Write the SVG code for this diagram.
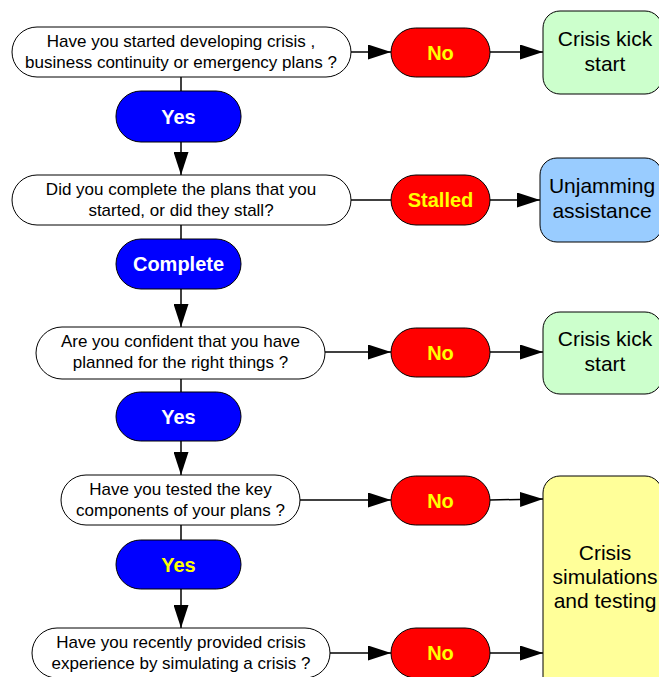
<svg xmlns="http://www.w3.org/2000/svg" width="659" height="677" viewBox="0 0 659 677">
<style>
.q{fill:#fff;stroke:#000;stroke-width:1}
.qt{font-family:"Liberation Sans",Arial,sans-serif;font-size:17px;fill:#000;text-anchor:middle}
.yes{fill:#0000FF;stroke:#000;stroke-width:1}
.no{fill:#FF0000;stroke:#000;stroke-width:1}
.pt{font-family:"Liberation Sans",Arial,sans-serif;font-size:20px;font-weight:bold;text-anchor:middle}
.w{fill:#fff}
.y{fill:#FFFF00}
.bt{font-family:"Liberation Sans",Arial,sans-serif;font-size:21px;fill:#000;text-anchor:middle}
.c{stroke:#000;stroke-width:1.5;fill:none}
.ca{stroke:#000;stroke-width:1.5;fill:none;marker-end:url(#ah)}
</style>
<defs>
<marker id="ah" markerUnits="userSpaceOnUse" markerWidth="23" markerHeight="15" refX="23" refY="7.5" orient="auto" viewBox="0 0 23 15">
<path d="M0,0 L23,7.5 L0,15 z" fill="#000"/>
</marker>
</defs>
<g id="connectors">
<line class="c" x1="181" y1="77" x2="181" y2="91"/>
<line class="ca" x1="181" y1="142" x2="181" y2="175"/>
<line class="c" x1="181" y1="225" x2="181" y2="239"/>
<line class="ca" x1="181" y1="289" x2="181" y2="327"/>
<line class="c" x1="181" y1="379" x2="181" y2="392"/>
<line class="ca" x1="181" y1="441" x2="181" y2="475"/>
<line class="c" x1="181" y1="525" x2="181" y2="540"/>
<line class="ca" x1="181" y1="589" x2="181" y2="628"/>
<line class="ca" x1="351" y1="52" x2="391" y2="52"/>
<line class="ca" x1="490" y1="52" x2="543" y2="52"/>
<line class="c" x1="351" y1="200" x2="391" y2="200"/>
<line class="ca" x1="490" y1="200" x2="540" y2="200"/>
<line class="ca" x1="325" y1="352" x2="391" y2="352"/>
<line class="ca" x1="490" y1="352" x2="543" y2="352"/>
<line class="ca" x1="300" y1="500" x2="391" y2="500"/>
<line class="ca" x1="490" y1="500" x2="543" y2="499"/>
<line class="ca" x1="330" y1="653" x2="391" y2="653"/>
<line class="ca" x1="490" y1="653" x2="543" y2="653"/>
</g>
<g id="q1"><rect class="q" x="12" y="27" width="339" height="50" rx="25"/>
<text class="qt" x="181" y="47">Have you started developing crisis ,</text>
<text class="qt" x="181" y="68">business continuity or emergency plans ?</text></g>
<g id="yes1"><rect class="yes" x="116" y="91" width="125" height="51" rx="25"/><text class="pt w" x="178.5" y="123.5">Yes</text></g>
<g id="q2"><rect class="q" x="12" y="175" width="339" height="50" rx="25"/>
<text class="qt" x="181" y="195">Did you complete the plans that you</text>
<text class="qt" x="181" y="216">started, or did they stall?</text></g>
<g id="complete"><rect class="yes" x="116" y="239" width="125" height="50" rx="25"/><text class="pt w" x="178.5" y="271">Complete</text></g>
<g id="q3"><rect class="q" x="36" y="327" width="289" height="52" rx="26"/>
<text class="qt" x="180.5" y="347">Are you confident that you have</text>
<text class="qt" x="180.5" y="368">planned for the right things ?</text></g>
<g id="yes3"><rect class="yes" x="116" y="392" width="125" height="49" rx="24.5"/><text class="pt w" x="178.5" y="423.5">Yes</text></g>
<g id="q4"><rect class="q" x="61" y="475" width="239" height="50" rx="25"/>
<text class="qt" x="180.5" y="495">Have you tested the key</text>
<text class="qt" x="180.5" y="516">components of your plans ?</text></g>
<g id="yes4"><rect class="yes" x="116" y="540" width="125" height="49" rx="24.5"/><text class="pt y" x="178.5" y="571.5">Yes</text></g>
<g id="q5"><rect class="q" x="32" y="628" width="298" height="50" rx="25"/>
<text class="qt" x="181" y="648">Have you recently provided crisis</text>
<text class="qt" x="181" y="669">experience by simulating a crisis ?</text></g>
<g id="no1"><rect class="no" x="391" y="28" width="99" height="49" rx="24.5"/><text class="pt y" x="440.5" y="59.5">No</text></g>
<g id="stalled"><rect class="no" x="391" y="175" width="99" height="50" rx="25"/><text class="pt y" x="440.5" y="207">Stalled</text></g>
<g id="no3"><rect class="no" x="391" y="328" width="99" height="49" rx="24.5"/><text class="pt y" x="440.5" y="359.5">No</text></g>
<g id="no4"><rect class="no" x="391" y="476" width="99" height="49" rx="24.5"/><text class="pt y" x="440.5" y="507.5">No</text></g>
<g id="no5"><rect class="no" x="391" y="628" width="99" height="50" rx="25"/><text class="pt y" x="440.5" y="660">No</text></g>
<g id="kick1"><rect x="543" y="11" width="119" height="83" rx="17" fill="#CCFFCC" stroke="#000"/>
<text class="bt" x="605" y="46">Crisis kick</text><text class="bt" x="605" y="71">start</text></g>
<g id="unjam"><rect x="540" y="158" width="122" height="84" rx="17" fill="#99CCFF" stroke="#000"/>
<text class="bt" x="602" y="193">Unjamming</text><text class="bt" x="602" y="218">assistance</text></g>
<g id="kick2"><rect x="543" y="312" width="119" height="82" rx="17" fill="#CCFFCC" stroke="#000"/>
<text class="bt" x="605" y="346">Crisis kick</text><text class="bt" x="605" y="371">start</text></g>
<g id="sim"><rect x="543" y="476" width="119" height="220" rx="17" fill="#FFFF99" stroke="#000"/>
<text class="bt" x="605" y="560">Crisis</text><text class="bt" x="605" y="584">simulations</text><text class="bt" x="605" y="608">and testing</text></g>
</svg>
